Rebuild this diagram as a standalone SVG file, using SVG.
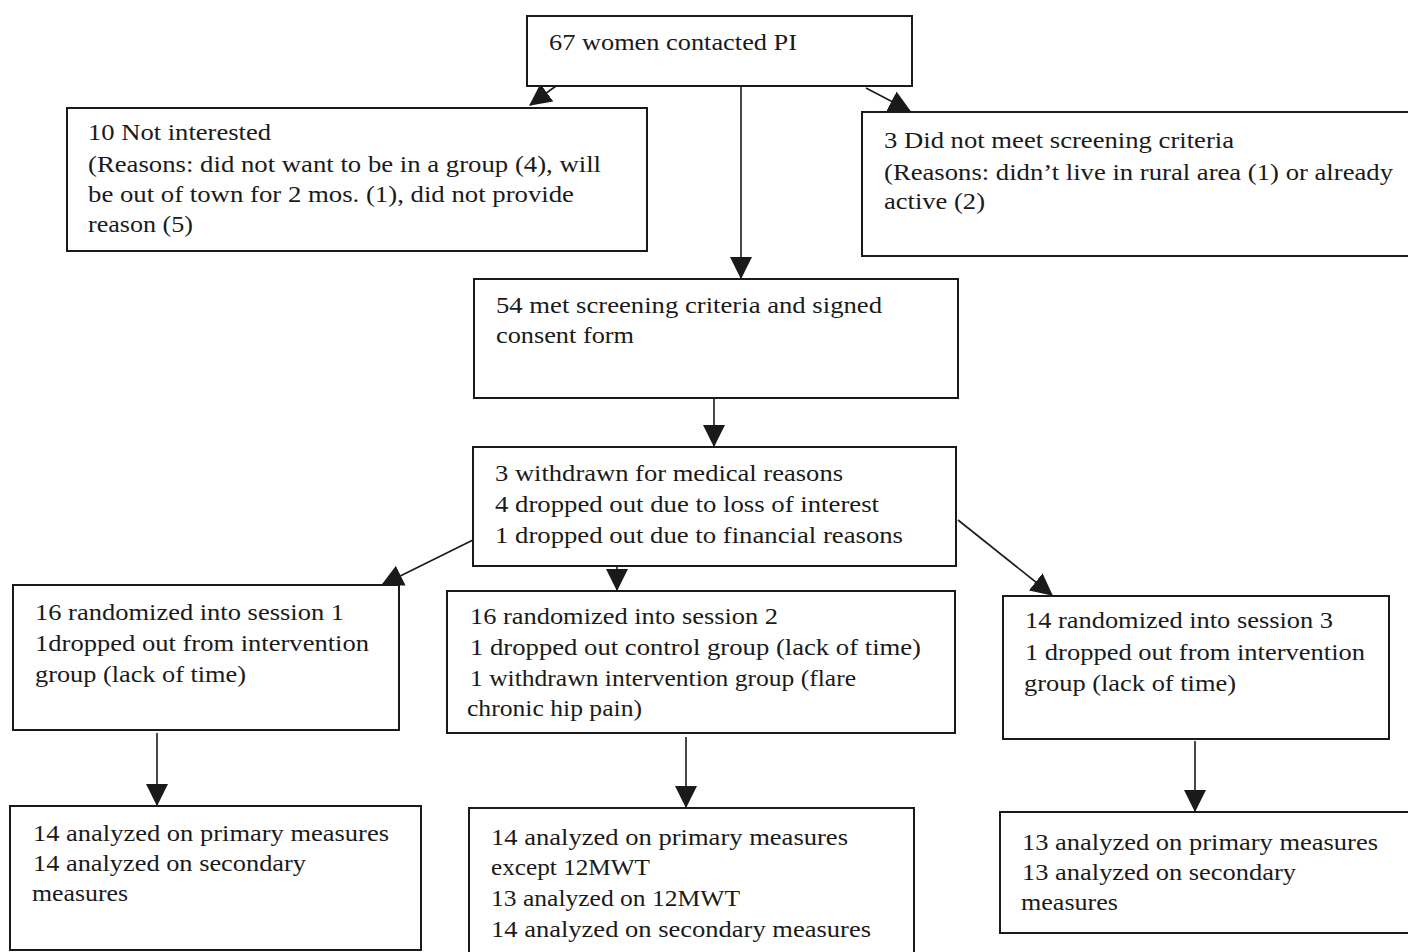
<svg xmlns="http://www.w3.org/2000/svg" width="1408" height="952" viewBox="0 0 1408 952">
<style>
.box{fill:#fff;stroke:#1a1a1a;stroke-width:2}
.t{font-family:"Liberation Serif","Times New Roman",serif;font-size:24px;fill:#1a1a1a}
.c{stroke:#1a1a1a;stroke-width:1.6;fill:none;marker-end:url(#ah)}
</style>
<defs>
<marker id="ah" markerUnits="userSpaceOnUse" markerWidth="22" markerHeight="22" viewBox="0 0 20 20" refX="19" refY="10" orient="auto">
<path d="M0,0 L20,10 L0,20 z" fill="#1a1a1a"/>
</marker>
</defs>
<rect width="1408" height="952" fill="#fff"/>
<g id="connectors">
<line class="c" x1="556" y1="86" x2="530" y2="105"/>
<line class="c" x1="741" y1="86" x2="741" y2="278"/>
<line class="c" x1="866" y1="88" x2="910" y2="111"/>
<line class="c" x1="714" y1="398" x2="714" y2="446"/>
<line class="c" x1="473" y1="540" x2="382" y2="585"/>
<line class="c" x1="617" y1="566" x2="617" y2="590"/>
<line class="c" x1="958" y1="520" x2="1052" y2="595"/>
<line class="c" x1="157" y1="733" x2="157" y2="805"/>
<line class="c" x1="686" y1="737" x2="686" y2="807"/>
<line class="c" x1="1195" y1="741" x2="1195" y2="811"/>
</g>
<g id="n_contacted">
<rect class="box" x="527" y="16" width="385" height="70"/>
<text class="t" x="549" y="50" textLength="248" lengthAdjust="spacingAndGlyphs">67 women contacted PI</text>
</g>
<g id="n_notinterested">
<rect class="box" x="67" y="108" width="580" height="143"/>
<text class="t" x="88" y="140" textLength="183" lengthAdjust="spacingAndGlyphs">10 Not interested</text>
<text class="t" x="88" y="172" textLength="513" lengthAdjust="spacingAndGlyphs">(Reasons: did not want to be in a group (4), will</text>
<text class="t" x="88" y="202" textLength="486" lengthAdjust="spacingAndGlyphs">be out of town for 2 mos. (1), did not provide</text>
<text class="t" x="88" y="232" textLength="105" lengthAdjust="spacingAndGlyphs">reason (5)</text>
</g>
<g id="n_notmet">
<rect class="box" x="862" y="112" width="560" height="144"/>
<text class="t" x="884" y="148" textLength="350" lengthAdjust="spacingAndGlyphs">3 Did not meet screening criteria</text>
<text class="t" x="884" y="180" textLength="509" lengthAdjust="spacingAndGlyphs">(Reasons: didn’t live in rural area (1) or already</text>
<text class="t" x="884" y="209" textLength="101" lengthAdjust="spacingAndGlyphs">active (2)</text>
</g>
<g id="n_consent">
<rect class="box" x="474" y="279" width="484" height="119"/>
<text class="t" x="496" y="313" textLength="386" lengthAdjust="spacingAndGlyphs">54 met screening criteria and signed</text>
<text class="t" x="496" y="343" textLength="138" lengthAdjust="spacingAndGlyphs">consent form</text>
</g>
<g id="n_withdrawn">
<rect class="box" x="473" y="447" width="483" height="119"/>
<text class="t" x="495" y="481" textLength="348" lengthAdjust="spacingAndGlyphs">3 withdrawn for medical reasons</text>
<text class="t" x="495" y="512" textLength="384" lengthAdjust="spacingAndGlyphs">4 dropped out due to loss of interest</text>
<text class="t" x="495" y="543" textLength="408" lengthAdjust="spacingAndGlyphs">1 dropped out due to financial reasons</text>
</g>
<g id="n_session1">
<rect class="box" x="13" y="585" width="386" height="145"/>
<text class="t" x="35" y="620" textLength="309" lengthAdjust="spacingAndGlyphs">16 randomized into session 1</text>
<text class="t" x="35" y="651" textLength="334" lengthAdjust="spacingAndGlyphs">1dropped out from intervention</text>
<text class="t" x="35" y="682" textLength="211" lengthAdjust="spacingAndGlyphs">group (lack of time)</text>
</g>
<g id="n_session2">
<rect class="box" x="447" y="591" width="508" height="142"/>
<text class="t" x="470" y="624" textLength="308" lengthAdjust="spacingAndGlyphs">16 randomized into session 2</text>
<text class="t" x="470" y="655" textLength="451" lengthAdjust="spacingAndGlyphs">1 dropped out control group (lack of time)</text>
<text class="t" x="470" y="686" textLength="386" lengthAdjust="spacingAndGlyphs">1 withdrawn intervention group (flare</text>
<text class="t" x="467" y="716" textLength="175" lengthAdjust="spacingAndGlyphs">chronic hip pain)</text>
</g>
<g id="n_session3">
<rect class="box" x="1003" y="596" width="386" height="143"/>
<text class="t" x="1025" y="628" textLength="308" lengthAdjust="spacingAndGlyphs">14 randomized into session 3</text>
<text class="t" x="1025" y="660" textLength="340" lengthAdjust="spacingAndGlyphs">1 dropped out from intervention</text>
<text class="t" x="1024" y="691" textLength="212" lengthAdjust="spacingAndGlyphs">group (lack of time)</text>
</g>
<g id="n_analysis1">
<rect class="box" x="10" y="806" width="411" height="144"/>
<text class="t" x="33" y="841" textLength="356" lengthAdjust="spacingAndGlyphs">14 analyzed on primary measures</text>
<text class="t" x="33" y="871" textLength="273" lengthAdjust="spacingAndGlyphs">14 analyzed on secondary</text>
<text class="t" x="32" y="901" textLength="96" lengthAdjust="spacingAndGlyphs">measures</text>
</g>
<g id="n_analysis2">
<rect class="box" x="469" y="808" width="445" height="150"/>
<text class="t" x="491" y="845" textLength="357" lengthAdjust="spacingAndGlyphs">14 analyzed on primary measures</text>
<text class="t" x="491" y="875" textLength="159" lengthAdjust="spacingAndGlyphs">except 12MWT</text>
<text class="t" x="491" y="906" textLength="249" lengthAdjust="spacingAndGlyphs">13 analyzed on 12MWT</text>
<text class="t" x="491" y="937" textLength="380" lengthAdjust="spacingAndGlyphs">14 analyzed on secondary measures</text>
</g>
<g id="n_analysis3">
<rect class="box" x="1000" y="812" width="420" height="121"/>
<text class="t" x="1022" y="850" textLength="356" lengthAdjust="spacingAndGlyphs">13 analyzed on primary measures</text>
<text class="t" x="1022" y="880" textLength="274" lengthAdjust="spacingAndGlyphs">13 analyzed on secondary</text>
<text class="t" x="1021" y="910" textLength="97" lengthAdjust="spacingAndGlyphs">measures</text>
</g>
</svg>
